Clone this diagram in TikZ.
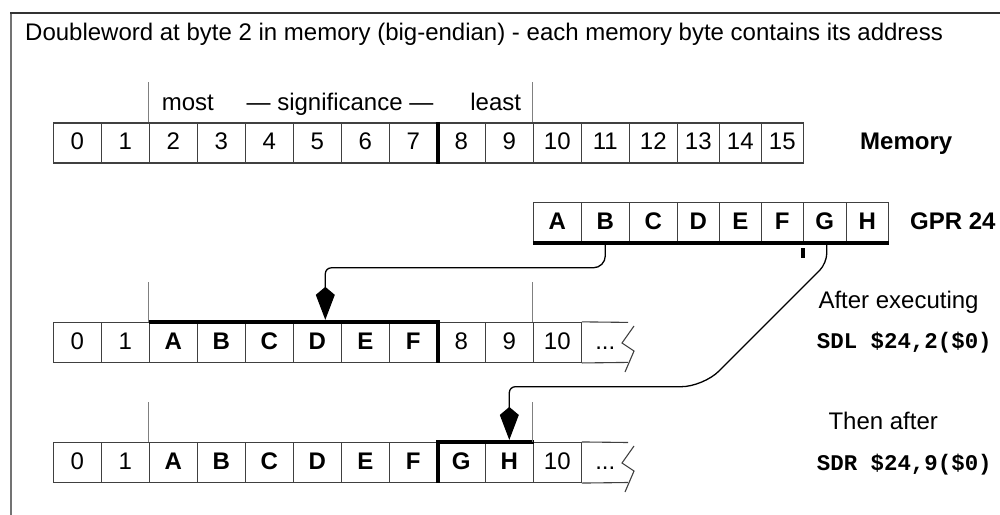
\documentclass[tikz,border=0pt]{standalone}
\usepackage{fontspec}
\setmainfont{Liberation Sans}
\setmonofont{Liberation Mono}
\usetikzlibrary{arrows.meta,calc}
\definecolor{cellline}{gray}{0.25}
\definecolor{guideline}{gray}{0.5}
\tikzset{
  every node/.style={font=\fontsize{24}{28}\selectfont},
  cell/.style={draw=cellline, line width=1.1pt, minimum height=40pt, minimum width=48pt, inner sep=0pt, text height=17.2pt, text depth=4pt},
  narrow/.style={minimum width=42pt},
  boldtxt/.style={font=\fontsize{24}{28}\selectfont\bfseries},
  gpr/.style={cell, minimum height=39.5pt, boldtxt},
  heavy/.style={line width=4.4pt, black, line join=miter},
  guide/.style={draw=guideline, line width=1pt},
  thinline/.style={draw=cellline, line width=1.1pt},
  conn/.style={line width=1.3pt, black, -{Kite[length=33pt,width=19pt,inset=8pt]}, shorten >=2pt},
  codetxt/.style={font=\fontsize{22.4}{26}\selectfont\ttfamily\bfseries},
  txtw/.style={anchor=base west, inner sep=0pt},
  txtc/.style={anchor=base, inner sep=0pt},
}
\begin{document}
\begin{tikzpicture}[x=1pt,y=-1pt]
\useasboundingbox (0,0) rectangle (1000,514);
\clip (0,0) rectangle (1000,514);
% frame
\draw[draw=black!55, line width=1.4pt] (11,530) -- (11,13);
\draw[draw=black!80, line width=1.1pt] (10.3,13) -- (1010,13);
\node[txtw, font=\fontsize{24}{28}\selectfont] (title) at (25,40) {Doubleword at byte 2 in memory (big-endian) - each memory byte contains its address};
% ---------- memory row
\foreach \i in {0,...,12} \node[cell] (m\i) at (77.3+48*\i,143) {\i};
\foreach \i/\xc in {13/698.3,14/740.3,15/782.3} \node[cell,narrow] (m\i) at (\xc,143) {\i};
\draw[heavy] (m7.north east) -- (m7.south east);
\draw[guide] (m2.north west) -- ++(0,-40);
\draw[guide] (m10.north west) -- ++(0,-40);
\node[txtc] (most) at (187.8,110) {most};
\node[txtc] (sig) at (340,110) {— significance —};
\node[txtc] (least) at (495.7,110) {least};
\node[txtw, boldtxt] (memlbl) at (860,149.5) {Memory};
% ---------- GPR 24
\foreach \n/\xc in {A/557.3,B/605.3,C/653.3} \node[gpr] (g\n) at (\xc,222.5) {\n};
\foreach \n/\xc in {D/698.3,E/740.3,F/782.3,H/867.3} \node[gpr,narrow] (g\n) at (\xc,222.5) {\n};
\node[gpr, minimum width=43pt] (gG) at (824.8,222.5) {G};
\draw[heavy] (gA.south west) -- (gH.south east);
\fill (801,248) rectangle (805,258);
\node[txtw, boldtxt] (gprlbl) at (910,229) {GPR 24};
% ---------- row after SDL
\foreach \i in {0,1,8,9,10} \node[cell] (s\i) at (77.3+48*\i,342.4) {\i};
\foreach \i/\t in {2/A,3/B,4/C,5/D,6/E,7/F} \node[cell,boldtxt] (s\t) at (77.3+48*\i,342.4) {\t};
\node[cell, draw=none] (sdots) at (605.3,342.4) {...};
\draw[thinline] (s10.north east) -- (628,322.4);
\draw[thinline] (s10.south east) -- (628,362.4);
\draw[thinline] (634,326) -- (622,343) -- (634,351) -- (625,372);
\draw[heavy] (sA.north west) -- (sF.north east) -- (sF.south east);
\draw[guide] (sA.north west) -- ++(0,-40);
\draw[guide] (s10.north west) -- ++(0,-40);
% ---------- row after SDR
\foreach \i in {0,1,10} \node[cell] (t\i) at (77.3+48*\i,462.5) {\i};
\foreach \i/\t in {2/A,3/B,4/C,5/D,6/E,7/F,8/G,9/H} \node[cell,boldtxt] (t\t) at (77.3+48*\i,462.5) {\t};
\node[cell, draw=none] (tdots) at (605.3,462.5) {...};
\draw[thinline] (t10.north east) -- (628,442.5);
\draw[thinline] (t10.south east) -- (628,482.5);
\draw[thinline] (634,446) -- (622,463) -- (634,471) -- (625,492);
\draw[heavy] (tF.south east) -- (tF.north east) -- (tH.north east);
\draw[guide] (tA.north west) -- ++(0,-40);
\draw[guide] (t10.north west) -- ++(0,-40);
% ---------- connectors
\draw[conn] (gB.south) [rounded corners=12pt] -- ++(0,25) [rounded corners=6pt] -| ($(sD.north)+(8,0)$);
\draw[conn] ([xshift=2pt]gG.south) [rounded corners=10pt] -- (826.8,263.2) [rounded corners=22pt] -- (703.3,386.7) [rounded corners=6pt] -| (tH.north);
% ---------- right texts
\node[txtw] (after) at (818.3,308.3) {After executing};
\node[txtw, codetxt] (sdl) at (816.7,348.5) {SDL \$24,2(\$0)};
\node[txtw] (then) at (828.3,429) {Then after};
\node[txtw, codetxt] (sdr) at (816.7,470) {SDR \$24,9(\$0)};
\end{tikzpicture}
\end{document}
